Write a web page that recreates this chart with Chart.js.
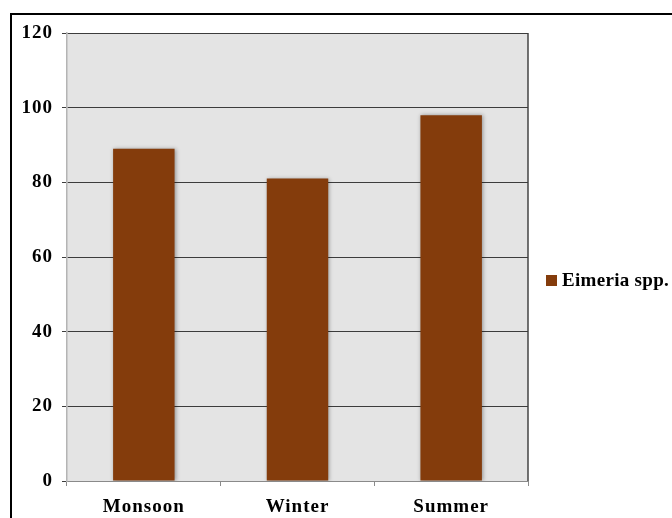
<!DOCTYPE html>
<html>
<head>
<meta charset="utf-8">
<script src="https://cdn.jsdelivr.net/npm/chart.js@4.4.1/dist/chart.umd.min.js"></script>
<style>
  html, body { margin: 0; padding: 0; background: #fff; overflow: hidden; }
  #wrap { position: relative; width: 672px; height: 518px; }
  #frame {
    position: absolute; left: 10px; top: 13px; width: 700px; height: 560px;
    border: 2px solid #000; box-sizing: border-box;
  }
  #chart { position: absolute; left: 0; top: 0; }
  #legend {
    position: absolute; left: 546px; top: 269px;
    font: bold 19px "Liberation Serif", "Times New Roman", serif;
    letter-spacing: 0.3px;
    color: #000; display: flex; align-items: center; white-space: nowrap;
  }
  #legend .box { width: 11px; height: 11px; margin-right: 5px; display: inline-block; }
</style>
</head>
<body>
<div id="wrap">
  <div id="frame"></div>
  <canvas id="chart" width="672" height="518"></canvas>
  <div id="legend"></div>
</div>
<script>
const seasons = ['Monsoon', 'Winter', 'Summer'];
const eimeriaValues = [89, 81, 98];
const seriesName = 'Eimeria spp.';
const barColor = '#843c0c';

const serif = '"Liberation Serif", "Times New Roman", serif';

// grey plot background, darker right edge, soft shadow behind the bars
const plotBackground = {
  id: 'plotBackground',
  beforeDraw(chart) {
    const { ctx, chartArea: a } = chart;
    ctx.letterSpacing = '1px';
    ctx.save();
    ctx.fillStyle = '#e4e4e4';
    ctx.fillRect(a.left, a.top, a.right - a.left, a.bottom - a.top);
    ctx.strokeStyle = '#444';
    ctx.lineWidth = 1.5;
    ctx.beginPath();
    ctx.moveTo(a.right, a.top);
    ctx.lineTo(a.right, a.bottom);
    ctx.stroke();
    ctx.restore();
  },
  beforeDatasetsDraw(chart) {
    const ctx = chart.ctx;
    ctx.save();
    ctx.shadowColor = 'rgba(0,0,0,0.35)';
    ctx.shadowBlur = 4;
    ctx.shadowOffsetX = 1;
    ctx.shadowOffsetY = 0;
  },
  afterDatasetsDraw(chart) {
    chart.ctx.restore();
  }
};

new Chart(document.getElementById('chart').getContext('2d'), {
  type: 'bar',
  data: {
    labels: seasons,
    datasets: [{
      label: seriesName,
      data: eimeriaValues,
      backgroundColor: barColor,
      borderWidth: 0,
      barPercentage: 0.4,
      categoryPercentage: 1
    }]
  },
  options: {
    responsive: false,
    animation: false,
    layout: { padding: { top: 33, right: 144, left: 0, bottom: 0 } },
    plugins: {
      legend: { display: false },
      tooltip: { enabled: false }
    },
    scales: {
      x: {
        grid: {
          offset: true,
          drawOnChartArea: false,
          drawTicks: true,
          tickLength: 5,
          color: '#8a8a8a'
        },
        border: { color: '#8a8a8a', width: 1 },
        ticks: {
          color: '#000',
          padding: 10,
          font: { family: serif, size: 19, weight: 'bold' }
        },
        afterFit(scale) { scale.height = 37; }
      },
      y: {
        min: 0,
        max: 120,
        ticks: {
          stepSize: 20,
          color: '#000',
          padding: 9,
          font: { family: serif, size: 19, weight: 'bold' }
        },
        grid: {
          color: '#3c3c3c',
          lineWidth: 1,
          tickLength: 5
        },
        border: { color: '#b4b4b4', width: 1.5 },
        afterFit(scale) { scale.width = 67; }
      }
    }
  },
  plugins: [plotBackground]
});

const legend = document.getElementById('legend');
legend.innerHTML = `<span class="box" style="background:${barColor}"></span>${seriesName}`;
</script>
</body>
</html>
